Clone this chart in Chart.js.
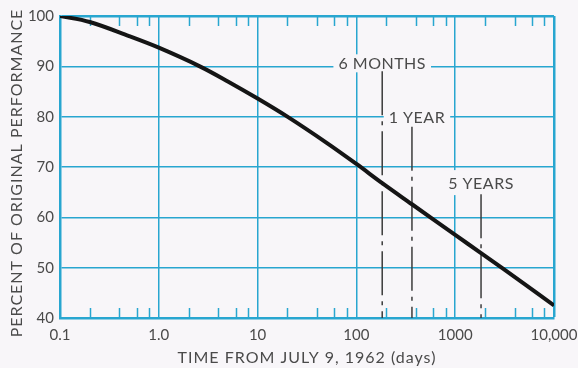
<!DOCTYPE html>
<html>
<head>
<meta charset="utf-8">
<script src="https://cdn.jsdelivr.net/npm/chart.js@4/dist/chart.umd.min.js"></script>
<style>
  html, body { margin: 0; padding: 0; background: #f8f6f9; }
  canvas { display: block; }
</style>
</head>
<body>
<canvas id="chart" width="578" height="368"></canvas>
<script>
// Degradation of performance over time (log time axis)
const days        = [0.1, 0.2, 0.5, 1, 2.6, 5, 10, 20, 50, 100, 182.5, 365, 1000, 1826, 5000, 10000];
const performance = [100, 98.8, 96.0, 93.7, 90.0, 87.0, 83.6, 80.0, 74.8, 70.6, 66.8, 62.6, 56.5, 52.9, 46.8, 42.5];

const xTickValues = [0.1, 1, 10, 100, 1000, 10000];
const xTickLabels = ['0.1', '1.0', '10', '100', '1000', '10,000'];
const yTickValues = [40, 50, 60, 70, 80, 90, 100];
const minorMultiples = [2, 4, 6, 8];

// Elapsed-time markers
const markerNames  = ['6 MONTHS', '1 YEAR', '5 YEARS'];
const markerDays   = [182.5, 365, 1826];
const markerTops   = [89.0, 78.0, 64.6];   // where each dash-dot line begins
const labelLevels  = [90.6, 80.0, 66.9];   // vertical position of each label

const GRID = '#28a6d0';
const INK = '#4a4a4a';
const BG = '#f8f6f9';
const FONT = 'Lato, "Open Sans", sans-serif';

// label styling: horizontal nudge and half-height of the cleared band
const labelStyle = [
  { dx: 0, half: 9 },
  { dx: 5, half: 9 },
  { dx: 0, half: 12.5 }
];

const curve = {
  data: days.map((d, i) => ({ x: d, y: performance[i] })),
  showLine: true,
  borderColor: '#151515',
  borderWidth: 4,
  pointRadius: 0,
  tension: 0.35,
  order: 0
};

const markerSets = markerDays.map((d, i) => ({
  data: [{ x: d, y: markerTops[i] }, { x: d, y: 40 }],
  showLine: true,
  borderColor: '#3c3c3c',
  borderWidth: 1.5,
  borderDash: [44, 6, 4, 6],
  pointRadius: 0,
  order: 1
}));

const decorations = {
  id: 'decorations',
  beforeDatasetsDraw(chart) {
    const { ctx, scales: { x, y }, chartArea: a } = chart;
    ctx.save();
    // minor tick marks, pointing inward from top and bottom edges
    ctx.strokeStyle = GRID;
    ctx.lineWidth = 1.5;
    for (let p = -1; p < 4; p++) {
      for (const m of minorMultiples) {
        const px = Math.round(x.getPixelForValue(m * Math.pow(10, p))) + 0.5;
        ctx.beginPath();
        ctx.moveTo(px, a.bottom);
        ctx.lineTo(px, a.bottom - 10);
        ctx.moveTo(px, a.top);
        ctx.lineTo(px, a.top + 10);
        ctx.stroke();
      }
    }
    // marker labels, set into cleared bands of the grid
    ctx.font = '16px ' + FONT;
    ctx.letterSpacing = '0.5px';
    ctx.textAlign = 'center';
    ctx.textBaseline = 'middle';
    markerNames.forEach((name, i) => {
      const cx = x.getPixelForValue(markerDays[i]) + labelStyle[i].dx;
      const cy = y.getPixelForValue(labelLevels[i]);
      const w = ctx.measureText(name).width;
      ctx.fillStyle = BG;
      ctx.fillRect(cx - w / 2 - 5, cy - labelStyle[i].half, w + 10, labelStyle[i].half * 2);
      ctx.fillStyle = INK;
      ctx.fillText(name, cx, cy + 1);
    });
    ctx.restore();
  },
  afterDraw(chart) {
    const { ctx, chartArea: a } = chart;
    ctx.save();
    ctx.fillStyle = INK;
    ctx.font = '16px ' + FONT;
    ctx.textAlign = 'center';
    ctx.textBaseline = 'middle';
    ctx.letterSpacing = '1px';
    ctx.fillText('TIME FROM JULY 9, 1962 (days)', (a.left + a.right) / 2, 358);
    ctx.translate(17, 173);
    ctx.rotate(-Math.PI / 2);
    ctx.letterSpacing = '1px';
    ctx.fillText('PERCENT OF ORIGINAL PERFORMANCE', 0, 0);
    ctx.restore();
  }
};

new Chart(document.getElementById('chart'), {
  type: 'scatter',
  data: { datasets: [curve, ...markerSets] },
  plugins: [decorations],
  options: {
    responsive: false,
    animation: false,
    layout: { padding: { top: 16, right: 24, left: 0, bottom: 0 } },
    plugins: { legend: { display: false }, tooltip: { enabled: false } },
    scales: {
      x: {
        type: 'logarithmic',
        min: 0.1,
        max: 10000,
        afterBuildTicks(s) { s.ticks = xTickValues.map(v => ({ value: v })); },
        afterFit(s) { s.height = 50; s.paddingRight = 0; s.paddingLeft = 0; },
        ticks: {
          callback: (v, i) => xTickLabels[i],
          color: INK,
          font: { family: FONT, size: 15 },
          padding: 8,
          maxRotation: 0,
          autoSkip: false
        },
        grid: {
          color: GRID,
          lineWidth: c => (c.tick && c.tick.value === 10000 ? 2.5 : 1.5),
          drawTicks: false
        },
        border: { color: GRID, width: 2.5 }
      },
      y: {
        min: 40,
        max: 100,
        afterBuildTicks(s) { s.ticks = yTickValues.map(v => ({ value: v })); },
        afterFit(s) { s.width = 60; },
        ticks: {
          color: INK,
          font: { family: FONT, size: 15 },
          padding: 6
        },
        grid: {
          color: GRID,
          lineWidth: c => (c.tick && c.tick.value === 100 ? 2.5 : 1.5),
          drawTicks: false
        },
        border: { color: GRID, width: 2.5 }
      }
    }
  }
});
</script>
</body>
</html>
